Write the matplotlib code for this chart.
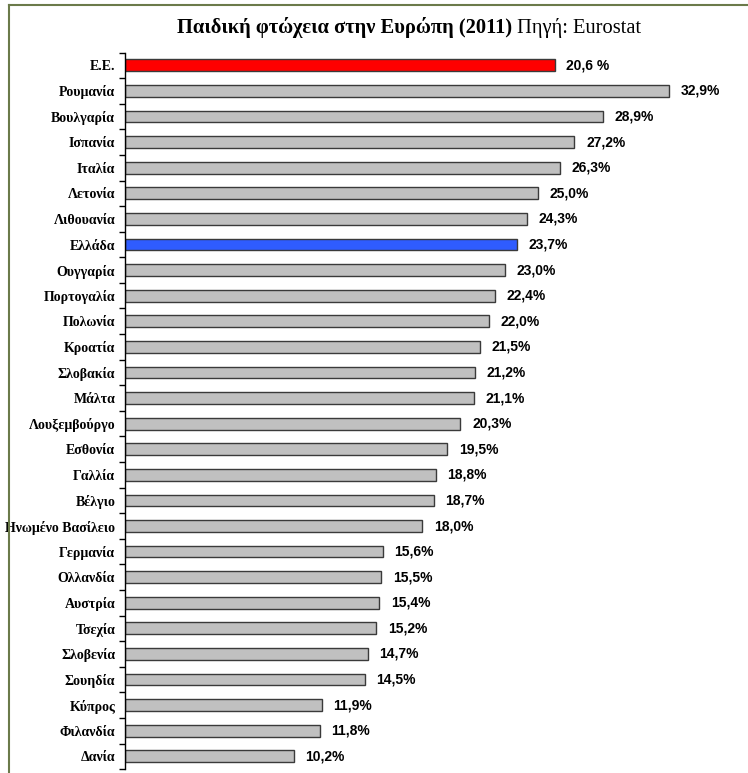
import matplotlib.pyplot as plt
from matplotlib.lines import Line2D

# Data (top to bottom)
countries = ["Ε.Ε.", "Ρουμανία", "Βουλγαρία", "Ισπανία", "Ιταλία", "Λετονία",
             "Λιθουανία", "Ελλάδα", "Ουγγαρία", "Πορτογαλία", "Πολωνία",
             "Κροατία", "Σλοβακία", "Μάλτα", "Λουξεμβούργο", "Εσθονία",
             "Γαλλία", "Βέλγιο", "Ηνωμένο Βασίλειο", "Γερμανία", "Ολλανδία",
             "Αυστρία", "Τσεχία", "Σλοβενία", "Σουηδία", "Κύπρος", "Φιλανδία",
             "Δανία"]
# printed values
values = [20.6, 32.9, 28.9, 27.2, 26.3, 25.0, 24.3, 23.7, 23.0, 22.4, 22.0,
          21.5, 21.2, 21.1, 20.3, 19.5, 18.8, 18.7, 18.0, 15.6, 15.5, 15.4,
          15.2, 14.7, 14.5, 11.9, 11.8, 10.2]
# bar lengths as drawn (the E.E. bar is drawn longer than its label)
bar_lengths = [26.0] + values[1:]
value_labels = ["20,6 %"] + [f"{v:.1f}%".replace(".", ",") for v in values[1:]]
highlight = {"Ε.Ε.": "#ff0000", "Ελλάδα": "#2f5cff"}

fig = plt.figure(figsize=(7.48, 7.73), dpi=100)
ax = fig.add_axes([0.167, 0.005, 0.822, 0.927])

n = len(countries)
ypos = list(range(n))
colors = [highlight.get(c, "#c0c0c0") for c in countries]
ax.barh(ypos, bar_lengths, height=0.46, color=colors,
        edgecolor="#3a3a3a", linewidth=1.0)

for y, length, lab in zip(ypos, bar_lengths, value_labels):
    ax.text(length + 0.7, y, lab, va="center", ha="left",
            fontsize=10, fontweight="bold", family="Liberation Sans")

ax.set_ylim(n - 0.5, -0.5)
ax.set_xlim(0, 37.2)
ax.set_yticks([i - 0.5 for i in range(n + 1)])
ax.set_yticklabels([])
ax.set_yticks(ypos, minor=True)
ax.set_yticklabels(countries, minor=True, fontsize=10, fontweight="bold",
                   family="Liberation Serif")
ax.tick_params(axis="y", which="major", length=4, width=1, direction="out")
ax.tick_params(axis="y", which="minor", length=0, pad=7)
ax.set_xticks([])
for side in ["top", "right", "bottom"]:
    ax.spines[side].set_visible(False)
ax.spines["left"].set_linewidth(1.0)

# title
fig.text(0.684, 0.964, "Παιδική φτώχεια στην Ευρώπη (2011)", ha="right",
         va="center", fontsize=14.8, fontweight="bold", family="Liberation Serif")
fig.text(0.684, 0.964, " Πηγή: Eurostat", ha="left", va="center",
         fontsize=14.8, family="Liberation Serif")

# page border lines
fig.add_artist(Line2D([0.012, 1.0], [0.993, 0.993], color="#6b7a4a", lw=1.5,
                      transform=fig.transFigure))
fig.add_artist(Line2D([0.012, 0.012], [0.0, 0.993], color="#6b7a4a", lw=1.5,
                      transform=fig.transFigure))

fig.savefig("out.png", dpi=100)
